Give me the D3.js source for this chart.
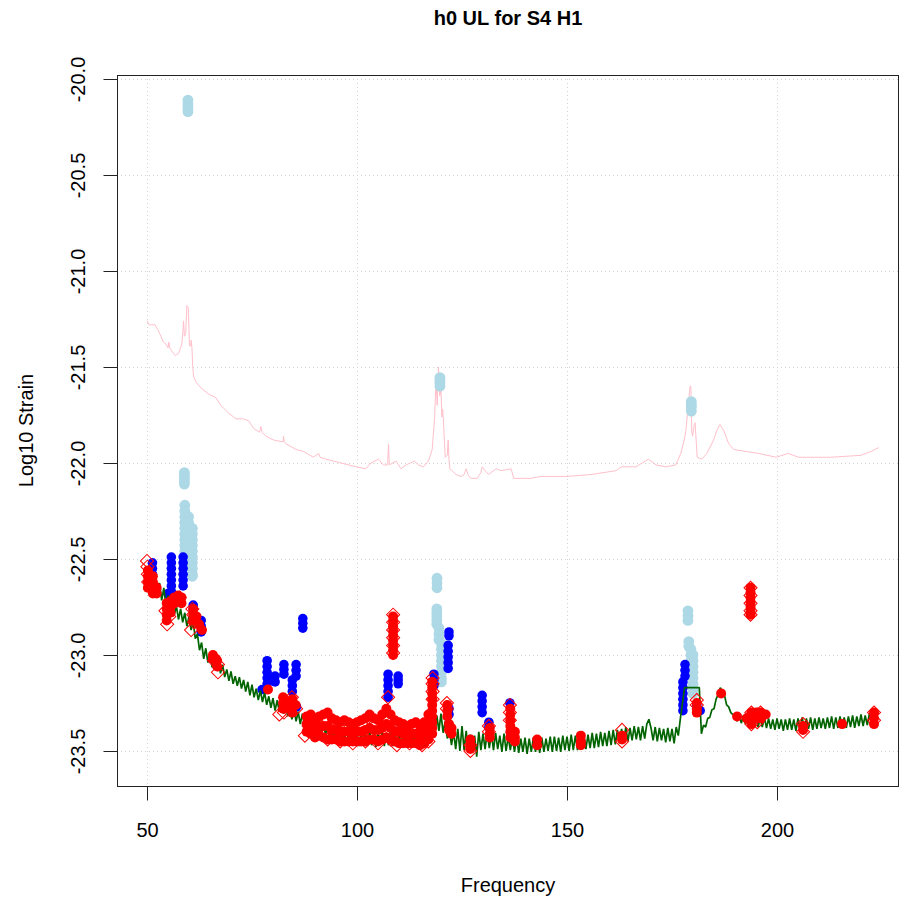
<!DOCTYPE html>
<html>
<head>
<meta charset="utf-8">
<script src="https://cdn.jsdelivr.net/npm/d3@7"></script>
<style>
  body { margin: 0; background: #fff; }
  text { font-family: "Liberation Sans", Arial, Helvetica, sans-serif; }
</style>
</head>
<body>
<div id="chart"></div>
<script>
// Axis ticks
const xTicks = [50, 100, 150, 200];
const yTicks = [-20.0, -20.5, -21.0, -21.5, -22.0, -22.5, -23.0, -23.5];

// Pink upper curve [frequency, log10 strain]
const pinkLine = [
  [50.0,-21.26],[50.5,-21.28],[51.0,-21.28],[51.9,-21.28],[52.7,-21.31],[53.3,-21.34],[53.9,-21.37],
  [54.5,-21.38],[55.0,-21.40],[55.2,-21.37],[55.4,-21.40],[56.0,-21.42],[56.7,-21.44],[57.5,-21.43],
  [58.0,-21.40],[58.3,-21.38],[58.6,-21.30],[58.7,-21.26],[58.9,-21.34],[59.2,-21.33],[59.5,-21.18],
  [59.8,-21.19],[60.0,-21.30],[60.1,-21.39],[60.4,-21.39],[60.5,-21.36],[60.7,-21.40],[60.9,-21.50],
  [61.1,-21.55],[61.7,-21.58],[62.9,-21.61],[64.6,-21.64],[66.4,-21.66],[67.6,-21.70],[69.4,-21.74],
  [71.2,-21.77],[73.0,-21.77],[74.2,-21.78],[75.4,-21.82],[76.8,-21.84],[77.1,-21.81],[77.4,-21.84],
  [78.3,-21.86],[80.1,-21.88],[82.4,-21.89],[82.5,-21.86],[82.7,-21.89],[83.1,-21.90],[85.5,-21.93],
  [87.3,-21.94],[89.6,-21.97],[90.9,-21.95],[91.2,-21.97],[92.6,-21.98],[96.2,-22.00],[99.8,-22.02],
  [102.1,-22.03],[103.3,-22.00],[105.1,-21.98],[106.3,-22.01],[107.3,-22.01],[107.5,-21.90],[107.7,-22.01],
  [109.3,-21.99],[110.5,-22.03],[111.7,-22.01],[113.7,-21.99],[114.6,-22.01],[115.8,-22.02],[117.0,-21.99],
  [117.9,-21.93],[118.5,-21.76],[118.8,-21.57],[119.1,-21.70],[119.4,-21.50],[119.7,-21.65],[120.0,-21.62],
  [120.2,-21.76],[120.4,-21.72],[120.6,-21.79],[121.0,-21.97],[121.5,-21.96],[121.7,-21.88],[121.9,-21.98],
  [122.1,-22.03],[123.6,-22.06],[124.8,-22.07],[125.5,-22.06],[126.0,-22.03],[126.4,-22.06],[127.1,-22.08],
  [128.6,-22.08],[129.5,-22.05],[129.8,-22.02],[130.5,-22.04],[131.3,-22.06],[133.1,-22.03],[134.3,-22.04],
  [136.7,-22.03],[137.3,-22.08],[141.4,-22.08],[143.8,-22.07],[149.8,-22.07],[155.7,-22.06],[161.7,-22.04],
  [162.9,-22.02],[166.4,-22.02],[169.4,-21.98],[171.2,-22.01],[173.6,-22.02],[175.9,-22.01],[177.1,-21.95],
  [178.0,-21.87],[178.3,-21.83],[178.7,-21.74],[178.9,-21.69],[179.3,-21.60],[179.5,-21.60],[179.7,-21.84],
  [179.9,-21.86],[180.3,-21.80],[180.5,-21.79],[180.8,-21.90],[181.0,-21.97],[182.1,-21.98],[183.3,-21.95],
  [184.9,-21.88],[185.7,-21.83],[186.4,-21.80],[187.3,-21.83],[188.5,-21.90],[189.7,-21.93],[192.6,-21.94],
  [195.6,-21.95],[199.8,-21.97],[202.7,-21.95],[205.1,-21.97],[212.9,-21.97],[220.0,-21.96],[222.4,-21.94],
  [224.2,-21.92]
];

// Dark green strain curve, one value every 0.5 Hz from 52 Hz
const greenStart = 52;
const greenStep = 0.5;
const greenVals = [
  -22.600,-22.670,-22.625,-22.715,-22.650,-22.740,-22.690,-22.765,-22.730,-22.790,
  -22.745,-22.815,-22.760,-22.830,-22.780,-22.850,-22.800,-22.870,-22.825,-22.915,
  -22.890,-22.975,-22.935,-23.020,-22.965,-23.040,-22.990,-23.065,-23.015,-23.080,
  -23.035,-23.095,-23.050,-23.115,-23.075,-23.135,-23.085,-23.150,-23.110,-23.160,
  -23.115,-23.175,-23.130,-23.190,-23.140,-23.210,-23.155,-23.220,-23.175,-23.235,
  -23.185,-23.245,-23.195,-23.260,-23.215,-23.275,-23.225,-23.290,-23.235,-23.295,
  -23.245,-23.305,-23.255,-23.320,-23.270,-23.335,-23.285,-23.345,-23.295,-23.360,
  -23.305,-23.365,-23.320,-23.380,-23.330,-23.390,-23.340,-23.400,-23.350,-23.405,
  -23.360,-23.415,-23.370,-23.430,-23.380,-23.440,-23.390,-23.445,-23.395,-23.455,
  -23.400,-23.465,-23.405,-23.470,-23.400,-23.465,-23.405,-23.475,-23.395,-23.470,
  -23.400,-23.475,-23.390,-23.470,-23.405,-23.480,-23.395,-23.465,-23.400,-23.475,
  -23.405,-23.470,-23.390,-23.475,-23.400,-23.470,-23.405,-23.480,-23.395,-23.465,
  -23.405,-23.470,-23.390,-23.465,-23.395,-23.470,-23.385,-23.460,-23.380,-23.455,
  -23.375,-23.445,-23.355,-23.425,-23.315,-23.395,-23.305,-23.405,-23.345,-23.435,
  -23.390,-23.470,-23.400,-23.490,-23.385,-23.500,-23.370,-23.495,-23.395,-23.510,
  -23.415,-23.500,-23.420,-23.530,-23.400,-23.495,-23.410,-23.490,-23.400,-23.485,
  -23.410,-23.495,-23.405,-23.490,-23.420,-23.505,-23.410,-23.500,-23.425,-23.495,
  -23.430,-23.505,-23.425,-23.510,-23.435,-23.505,-23.430,-23.515,-23.435,-23.505,
  -23.430,-23.505,-23.435,-23.510,-23.430,-23.505,-23.435,-23.500,-23.425,-23.505,
  -23.425,-23.500,-23.430,-23.505,-23.420,-23.495,-23.425,-23.500,-23.415,-23.495,
  -23.420,-23.495,-23.415,-23.490,-23.410,-23.490,-23.415,-23.485,-23.405,-23.485,
  -23.410,-23.480,-23.400,-23.475,-23.405,-23.475,-23.395,-23.470,-23.390,-23.465,
  -23.390,-23.460,-23.385,-23.455,-23.375,-23.450,-23.380,-23.445,-23.370,-23.440,
  -23.375,-23.445,-23.370,-23.435,-23.360,-23.335,-23.380,-23.445,-23.375,-23.450,
  -23.380,-23.445,-23.385,-23.455,-23.380,-23.450,-23.385,-23.460,-23.375,-23.420,
  -23.330,-23.250,-23.170,-23.170,-23.170,-23.170,-23.170,-23.170,-23.170,-23.170,
  -23.410,-23.365,-23.375,-23.330,-23.325,-23.285,-23.280,-23.230,-23.205,-23.170,
  -23.195,-23.210,-23.260,-23.270,-23.300,-23.310,-23.320,-23.345,-23.310,-23.355,
  -23.315,-23.360,-23.320,-23.365,-23.320,-23.370,-23.325,-23.375,-23.330,-23.375,
  -23.325,-23.380,-23.330,-23.385,-23.335,-23.390,-23.330,-23.385,-23.335,-23.395,
  -23.335,-23.390,-23.330,-23.390,-23.335,-23.395,-23.330,-23.385,-23.325,-23.390,
  -23.330,-23.385,-23.325,-23.390,-23.330,-23.385,-23.325,-23.380,-23.330,-23.385,
  -23.325,-23.380,-23.320,-23.385,-23.325,-23.380,-23.320,-23.375,-23.325,-23.380,
  -23.320,-23.375,-23.315,-23.380,-23.320,-23.370,-23.310,-23.370,-23.315,-23.365,
  -23.305,-23.360,-23.285,-23.350,-23.300
];

// Light blue points
const lightBluePts = [
  [59.75,-20.11],[59.75,-20.125],[59.75,-20.14],[59.75,-20.155],[59.75,-20.17],
  [58.9,-22.05],[58.9,-22.065],[58.9,-22.08],[58.9,-22.095],[58.9,-22.11],
  [59.0,-22.22],[59.0,-22.25],[59.0,-22.28],[59.0,-22.31],[59.0,-22.34],[59.0,-22.37],[59.0,-22.40],
  [59.0,-22.43],[59.0,-22.46],[59.0,-22.49],
  [59.9,-22.28],[59.9,-22.31],[59.9,-22.34],[59.9,-22.37],[59.9,-22.40],[59.9,-22.43],[59.9,-22.46],
  [59.9,-22.49],[59.9,-22.52],
  [60.8,-22.34],[60.8,-22.37],[60.8,-22.40],[60.8,-22.43],[60.8,-22.46],[60.8,-22.49],[60.8,-22.52],
  [60.8,-22.55],[60.8,-22.58],[60.8,-22.59],
  [119.75,-21.555],[119.75,-21.57],[119.75,-21.585],[119.75,-21.60],
  [119.05,-22.60],[119.05,-22.625],[119.05,-22.65],
  [119.0,-22.76],[119.0,-22.78],[119.0,-22.80],[119.0,-22.82],[119.0,-22.84],
  [119.5,-22.86],[119.5,-22.89],[119.5,-22.92],
  [120.1,-22.94],[120.1,-22.97],[120.1,-23.00],[120.1,-23.03],[120.1,-23.06],[120.1,-23.09],[120.1,-23.12],[120.1,-23.14],
  [179.6,-21.68],[179.6,-21.695],[179.6,-21.71],[179.6,-21.73],
  [178.8,-22.77],[178.8,-22.795],[178.8,-22.82],
  [179.0,-22.93],[179.0,-22.955],
  [179.5,-22.97],[179.5,-23.00],[179.5,-23.03],[179.5,-23.06],
  [180.0,-23.00],[180.0,-23.03],[180.0,-23.06],[180.0,-23.09],[180.0,-23.12],[180.0,-23.15],[180.0,-23.18],[180.0,-23.20]
];

// Blue points
const bluePts = [
  [51.3,-22.52],[51.3,-22.55],[51.3,-22.58],
  [55.8,-22.49],[55.8,-22.52],[55.8,-22.55],[55.8,-22.58],[55.8,-22.61],[55.8,-22.64],[55.8,-22.67],[55.8,-22.70],
  [55.0,-22.68],
  [58.6,-22.49],[58.6,-22.52],[58.6,-22.55],[58.6,-22.58],[58.6,-22.61],[58.6,-22.64],
  [61.0,-22.74],[61.0,-22.76],[62.9,-22.82],[62.9,-22.85],[62.9,-22.88],
  [87.1,-22.81],[87.1,-22.835],[87.1,-22.86],
  [78.6,-23.03],[78.6,-23.06],[78.6,-23.09],[78.6,-23.12],[78.6,-23.15],[78.6,-23.18],
  [80.5,-23.11],[80.5,-23.14],[77.4,-23.18],
  [82.6,-23.05],[82.6,-23.075],[82.6,-23.10],
  [85.5,-23.05],[85.5,-23.08],[85.5,-23.11],[84.6,-23.13],[84.6,-23.16],[84.6,-23.19],[85.6,-23.27],
  [107.4,-23.10],[107.4,-23.13],[107.4,-23.16],[107.4,-23.19],[107.4,-23.22],
  [109.8,-23.11],[109.8,-23.13],[109.8,-23.15],
  [118.3,-23.10],[118.3,-23.13],[118.3,-23.16],
  [121.9,-22.88],[121.9,-22.90],
  [121.7,-22.95],[121.7,-22.98],[121.7,-23.01],[121.7,-23.04],[121.7,-23.07],
  [121.9,-23.28],[121.9,-23.31],
  [129.8,-23.21],[129.8,-23.24],[129.8,-23.27],[129.8,-23.30],
  [136.4,-23.25],[131.4,-23.35],[131.4,-23.375],
  [178.1,-23.05],[178.1,-23.08],[178.1,-23.11],
  [177.6,-23.14],[177.6,-23.17],[177.6,-23.20],[177.6,-23.23],[177.6,-23.26],[177.6,-23.29],
  [181.7,-23.29],[180.9,-23.26]
];

// Red filled points
const redDots = [
  [50.2,-22.56],[50.2,-22.59],[50.2,-22.62],[50.2,-22.65],[50.8,-22.64],
  [51.4,-22.59],[51.4,-22.62],[51.4,-22.65],[51.4,-22.68],[52.3,-22.65],[52.3,-22.68],
  [54.7,-22.73],[54.7,-22.76],[54.7,-22.79],[54.7,-22.82],[55.6,-22.72],[55.6,-22.75],[55.6,-22.78],
  [56.5,-22.70],[56.5,-22.73],[57.4,-22.69],[57.4,-22.72],[58.2,-22.70],[58.2,-22.73],
  [61.0,-22.76],[61.0,-22.79],[61.0,-22.82],[61.8,-22.80],[62.4,-22.84],[63.1,-22.87],
  [65.7,-23.00],[65.7,-23.02],[66.4,-23.02],[66.7,-23.03],[66.7,-23.06],
  [78.8,-23.18],
  [82.4,-23.22],[82.4,-23.25],[82.4,-23.28],[83.6,-23.25],[83.6,-23.28],
  [84.6,-23.23],[84.6,-23.27],[84.6,-23.30],[85.4,-23.26],
  [88,-23.32],[88,-23.36],[88,-23.40],[89,-23.31],[89,-23.36],[89,-23.41],
  [90,-23.33],[90,-23.38],[90,-23.43],[91,-23.32],[91,-23.37],[91,-23.42],
  [92,-23.31],[92,-23.37],[92,-23.43],[93,-23.30],[93,-23.37],[93,-23.44],
  [94,-23.33],[94,-23.39],[94,-23.44],[95,-23.34],[95,-23.39],[95,-23.44],
  [96,-23.35],[96,-23.40],[96,-23.45],[97,-23.34],[97,-23.40],[97,-23.45],
  [98,-23.35],[98,-23.40],[98,-23.45],[99,-23.36],[99,-23.41],[99,-23.45],
  [100,-23.35],[100,-23.40],[100,-23.45],[101,-23.34],[101,-23.40],[101,-23.45],
  [102,-23.33],[102,-23.39],[102,-23.45],[103,-23.31],[103,-23.38],[103,-23.44],
  [104,-23.33],[104,-23.39],[104,-23.44],[105,-23.34],[105,-23.39],[105,-23.45],
  [106,-23.31],[106,-23.38],[106,-23.44],[107,-23.28],[107,-23.36],[107,-23.43],
  [108,-23.31],[108,-23.38],[108,-23.44],[109,-23.34],[109,-23.40],[109,-23.45],
  [110,-23.35],[110,-23.40],[110,-23.46],[111,-23.36],[111,-23.41],[111,-23.46],
  [112,-23.37],[112,-23.42],[112,-23.46],[113,-23.36],[113,-23.41],[113,-23.46],
  [114,-23.35],[114,-23.41],[114,-23.46],[115,-23.37],[115,-23.42],[115,-23.47],
  [116,-23.35],[116,-23.40],[116,-23.46],[117,-23.31],[117,-23.38],[117,-23.44],
  [108.6,-22.80],[108.6,-22.825],[108.6,-22.85],[108.6,-22.875],[108.6,-22.90],
  [108.6,-22.925],[108.6,-22.95],[108.6,-22.975],[108.6,-23.00],
  [117.9,-23.14],[117.9,-23.17],[117.9,-23.20],[117.9,-23.23],[117.9,-23.26],
  [117.9,-23.29],[117.9,-23.32],[117.9,-23.35],[117.9,-23.38],[117.9,-23.41],
  [121.5,-23.26],[121.5,-23.29],[121.5,-23.32],[121.9,-23.36],[121.9,-23.39],[122.5,-23.38],[122.5,-23.41],
  [127.0,-23.44],[127.0,-23.47],[127.0,-23.49],
  [131.6,-23.38],[131.6,-23.41],[131.6,-23.43],
  [136.5,-23.28],[136.5,-23.31],[136.5,-23.34],[136.5,-23.37],[136.5,-23.40],[136.5,-23.43],
  [137.6,-23.40],[137.6,-23.43],[137.6,-23.45],
  [142.9,-23.44],[142.9,-23.47],
  [153.3,-23.42],[153.3,-23.45],[153.3,-23.47],
  [163.1,-23.42],[163.1,-23.44],
  [180.9,-23.25],[180.9,-23.28],[180.9,-23.30],
  [186.7,-23.20],[190.5,-23.32],
  [192.8,-23.33],[193.9,-23.30],[193.9,-23.33],[193.9,-23.36],[195.1,-23.30],[195.1,-23.33],
  [196.2,-23.30],[196.2,-23.33],[197.3,-23.31],
  [193.7,-22.65],[193.7,-22.675],[193.7,-22.70],[193.7,-22.725],[193.7,-22.75],[193.7,-22.775],[193.7,-22.79],
  [206.2,-23.37],[206.2,-23.39],
  [215.5,-23.36],
  [223.1,-23.30],[223.1,-23.33],[223.1,-23.36]
];

// Red open diamonds
const redDiamonds = [
  [50.0,-22.51],[50.1,-22.54],[50.2,-22.58],[50.3,-22.62],[51.3,-22.63],[51.6,-22.66],
  [54.4,-22.77],[54.8,-22.84],[55.3,-22.80],[56.8,-22.72],[57.8,-22.70],
  [60.8,-22.76],[61.0,-22.79],[61.2,-22.83],[60.5,-22.87],
  [66.0,-23.03],[66.9,-23.05],[66.9,-23.09],
  [82.6,-23.30],[81.5,-23.31],[84.5,-23.22],[85.5,-23.28],
  [87.6,-23.42],[88.5,-23.37],[89.5,-23.34],[90.0,-23.40],[91.5,-23.37],[92.5,-23.35],[93.0,-23.44],
  [94.5,-23.40],[95.5,-23.37],[96.0,-23.45],[97.5,-23.41],[98.5,-23.39],[99.0,-23.46],[100.5,-23.42],
  [101.5,-23.37],[102.0,-23.45],[103.5,-23.40],[104.5,-23.35],[105.0,-23.46],[106.5,-23.38],[107.5,-23.33],
  [108.0,-23.44],[109.5,-23.47],[110.5,-23.38],[111.0,-23.42],[112.5,-23.46],[113.5,-23.39],[114.0,-23.43],
  [115.5,-23.47],[116.5,-23.37],[117.0,-23.45],
  [108.6,-22.79],[108.6,-22.83],[108.6,-22.87],[108.6,-22.91],[108.6,-22.95],[108.6,-22.99],[107.4,-23.22],
  [118.0,-23.12],[118.0,-23.15],[118.0,-23.19],[118.0,-23.23],[121.4,-23.25],[121.4,-23.28],
  [127.0,-23.47],[127.0,-23.50],
  [131.4,-23.37],[131.4,-23.40],
  [136.4,-23.26],[136.4,-23.30],[136.4,-23.34],
  [163.1,-23.39],[163.1,-23.45],
  [180.9,-23.235],[180.9,-23.26],
  [193.9,-23.30],[193.9,-23.36],[195.3,-23.31],[195.3,-23.35],[196.1,-23.30],
  [193.7,-22.65],[193.7,-22.69],[193.7,-22.73],[193.7,-22.77],[193.7,-22.79],
  [206.2,-23.36],[206.2,-23.40],
  [223.1,-23.30],[223.1,-23.34]
];

// Set up the SVG
const width = 901;
const height = 903;
const box = { left: 117, right: 899, top: 75, bottom: 786 };

const svg = d3.select('#chart')
  .append('svg')
  .attr('width', width)
  .attr('height', height)
  .style('background', '#fff');

const x = d3.scaleLinear().domain([50, 200]).range([147, 777]);
const y = d3.scaleLinear().domain([-23.5, -20]).range([751, 79]);

svg.append('clipPath')
  .attr('id', 'plot-clip')
  .append('rect')
  .attr('x', box.left)
  .attr('y', box.top)
  .attr('width', box.right - box.left)
  .attr('height', box.bottom - box.top);

// Grid lines (dotted light gray)
const grid = svg.append('g').attr('stroke', '#d3d3d3').attr('stroke-dasharray', '1,3');
grid.selectAll('.vgrid')
  .data(xTicks)
  .join('line')
  .attr('x1', d => Math.round(x(d)) + 0.5)
  .attr('x2', d => Math.round(x(d)) + 0.5)
  .attr('y1', box.top)
  .attr('y2', box.bottom);
grid.selectAll('.hgrid')
  .data(yTicks)
  .join('line')
  .attr('x1', box.left)
  .attr('x2', box.right)
  .attr('y1', d => Math.round(y(d)) + 0.5)
  .attr('y2', d => Math.round(y(d)) + 0.5);

const plot = svg.append('g').attr('clip-path', 'url(#plot-clip)');

const line = d3.line().x(d => x(d[0])).y(d => y(d[1]));

// Pink curve
plot.append('path')
  .datum(pinkLine)
  .attr('fill', 'none')
  .attr('stroke', 'pink')
  .attr('stroke-width', 1)
  .attr('d', line);

// Light blue and blue points
plot.selectAll('.lb')
  .data(lightBluePts)
  .join('circle')
  .attr('cx', d => x(d[0]))
  .attr('cy', d => y(d[1]))
  .attr('r', 5.4)
  .attr('fill', 'lightblue');

plot.selectAll('.bl')
  .data(bluePts)
  .join('circle')
  .attr('cx', d => x(d[0]))
  .attr('cy', d => y(d[1]))
  .attr('r', 4.8)
  .attr('fill', 'blue');

// Green curve (dense, so drawn a little heavier)
const greenPts = greenVals.map((v, i) => [greenStart + i * greenStep, v]);
plot.append('path')
  .datum(greenPts)
  .attr('fill', 'none')
  .attr('stroke', 'darkgreen')
  .attr('stroke-width', 1.7)
  .attr('stroke-linejoin', 'bevel')
  .attr('d', line);

// Red points
plot.selectAll('.rd')
  .data(redDots)
  .join('circle')
  .attr('cx', d => x(d[0]))
  .attr('cy', d => y(d[1]))
  .attr('r', 5)
  .attr('fill', 'red');

const diamond = d3.symbol(d3.symbolSquare, 86);
plot.selectAll('.rdi')
  .data(redDiamonds)
  .join('path')
  .attr('d', diamond)
  .attr('transform', d => `translate(${x(d[0])},${y(d[1])}) rotate(45)`)
  .attr('fill', 'none')
  .attr('stroke', 'red')
  .attr('stroke-width', 1);

// Plot frame
svg.append('rect')
  .attr('x', box.left + 0.5)
  .attr('y', box.top + 0.5)
  .attr('width', box.right - box.left - 1)
  .attr('height', box.bottom - box.top)
  .attr('fill', 'none')
  .attr('stroke', '#222');

// Axes
const xAxis = svg.append('g')
  .attr('transform', `translate(0,${box.bottom + 0.5})`)
  .call(d3.axisBottom(x).tickValues(xTicks).tickSize(14).tickPadding(22));
xAxis.select('.domain').remove();
xAxis.selectAll('line').attr('stroke', '#222');
xAxis.selectAll('text')
  .text(d => String(d))
  .attr('fill', '#000')
  .style('font-size', '20px')
  .style('font-family', '"Liberation Sans", Arial, sans-serif');

const yAxis = svg.append('g')
  .attr('transform', `translate(${box.left + 0.5},0)`)
  .call(d3.axisLeft(y).tickValues(yTicks).tickSize(14));
yAxis.select('.domain').remove();
yAxis.selectAll('line').attr('stroke', '#222');
yAxis.selectAll('text')
  .text(d => d.toFixed(1))
  .attr('fill', '#000')
  .attr('x', 0)
  .attr('y', -40)
  .attr('dy', '0.35em')
  .attr('transform', 'rotate(-90)')
  .attr('text-anchor', 'middle')
  .style('font-size', '20px')
  .style('font-family', '"Liberation Sans", Arial, sans-serif');

// Titles
svg.append('text')
  .attr('x', (box.left + box.right) / 2)
  .attr('y', 25)
  .attr('text-anchor', 'middle')
  .style('font-size', '20px')
  .style('font-weight', 'bold')
  .text('h0 UL for S4 H1');

svg.append('text')
  .attr('x', (box.left + box.right) / 2)
  .attr('y', 892)
  .attr('text-anchor', 'middle')
  .style('font-size', '20px')
  .text('Frequency');

svg.append('text')
  .attr('transform', `translate(33,${(box.top + box.bottom) / 2}) rotate(-90)`)
  .attr('text-anchor', 'middle')
  .style('font-size', '20px')
  .text('Log10 Strain');
</script>
</body>
</html>
